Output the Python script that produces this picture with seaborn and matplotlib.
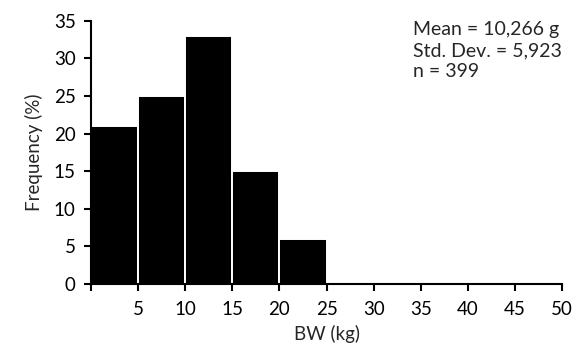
import numpy as np
import pandas as pd
import matplotlib
matplotlib.use("Agg")
import matplotlib.pyplot as plt
import seaborn as sns

bin_edges = [0, 5, 10, 15, 20, 25, 30, 35, 40, 45, 50]
bin_centers = [2.5, 7.5, 12.5, 17.5, 22.5]
frequency = [21, 25, 33, 15, 6]
x_ticks = [0, 5, 10, 15, 20, 25, 30, 35, 40, 45, 50]
x_ticklabels = ["", "5", "10", "15", "20", "25", "30", "35", "40", "45", "50"]
y_ticks = [0, 5, 10, 15, 20, 25, 30, 35]
stats_text = "Mean = 10,266 g\nStd. Dev. = 5,923\nn = 399"

sns.set_style("ticks")
plt.rcParams['font.family'] = ['Lato', 'DejaVu Sans']

df = pd.DataFrame({"BW": bin_centers, "freq": frequency})

fig = plt.figure(figsize=(5.76, 3.45), dpi=100)
ax = fig.add_axes([0.158, 0.177, 0.818, 0.763])
sns.histplot(data=df, x="BW", weights="freq", bins=bin_edges, ax=ax,
             color="black", edgecolor="white", linewidth=1.4, alpha=1)

ax.set_xlim(0, 50)
ax.set_ylim(0, 35)
ax.set_xticks(x_ticks)
ax.set_xticklabels(x_ticklabels)
ax.set_yticks(y_ticks)
ax.tick_params(axis="both", labelsize=13.5, width=1.5, length=5, color="black", labelcolor="black")
ax.tick_params(axis="x", pad=7)
ax.tick_params(axis="y", pad=6)
for s in ["top", "right"]:
    ax.spines[s].set_visible(False)
for s in ["left", "bottom"]:
    ax.spines[s].set_linewidth(1.5)
    ax.spines[s].set_color("black")
ax.set_xlabel("BW (kg)", fontsize=13.5, labelpad=5)
ax.set_ylabel("Frequency (%)", fontsize=13.5, labelpad=8)
ax.text(0.684, 1.0, stats_text, transform=ax.transAxes, fontsize=14,
        va="top", ha="left", linespacing=1.3)

fig.savefig("out.png", dpi=100)
